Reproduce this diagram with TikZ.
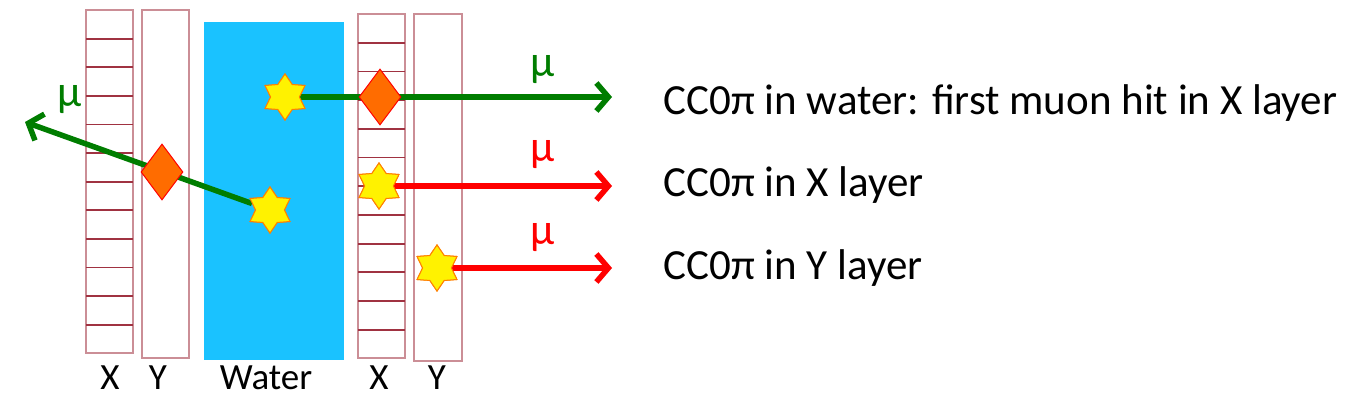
\documentclass[tikz,border=0pt]{standalone}
\usepackage{fontspec}
\setmainfont{Carlito}
\usetikzlibrary{shapes.geometric,arrows.meta}

\definecolor{stripe}{RGB}{160,50,65}
\definecolor{waterblue}{RGB}{26,194,255}
\definecolor{muongreen}{RGB}{0,125,0}

\tikzset{
	layer/.style={draw=stripe!55, line width=1.3pt},
	vertex/.style={star, star points=6, star point ratio=1.6, minimum size=46pt, inner sep=0pt, fill=yellow, draw=orange, line width=1pt},
	hit/.style={diamond, minimum width=42pt, minimum height=56pt, inner sep=0pt, fill=orange!85!red, draw=red, line width=1pt},
	track/.style={line width=5.5pt, -{Straight Barb[length=12pt,width=28pt]}},
	lbl/.style={font=\fontsize{37}{37}\selectfont},
	mu/.style={font=\fontsize{44}{44}\selectfont},
	caption/.style={font=\fontsize{43}{43}\selectfont, anchor=west},
}

\begin{document}
\begin{tikzpicture}[x=1pt,y=-1pt]
	\useasboundingbox (0,0) rectangle (1357,405);
	% layers
	\draw[layer] (86,10) rectangle (133,353);
	\foreach \i in {1,...,11} \draw[stripe, line width=1.8pt] (86,10+\i*28.6) -- (133,10+\i*28.6);
	\draw[layer] (142,10) rectangle (189,358);
	\fill[waterblue] (204,22) rectangle (344,360);
	\draw[layer] (358,14) rectangle (405,358);
	\foreach \i in {1,...,11} \draw[stripe, line width=1.8pt] (358,14+\i*28.7) -- (405,14+\i*28.7);
	\draw[layer] (414,14) rectangle (462,361);
	% labels under layers
	\node[lbl] (lx) at (110,378) {X};
	\node[lbl] (ly) at (158,378) {Y};
	\node[lbl] (lw) at (266,378) {Water};
	\node[lbl] (rx) at (379,378) {X};
	\node[lbl] (ry) at (437,378) {Y};
	% vertices and hits
	\coordinate (endA) at (25,122);
	\coordinate (endB) at (612,97);
	\coordinate (endC) at (612,186);
	\coordinate (endD) at (612,268);
	\node[vertex] (vA) at (270,210) {};
	\node[vertex] (vB) at (285,97) {};
	\node[vertex] (vC) at (379,186) {};
	\node[vertex] (vD) at (437,268) {};
	\draw[track, muongreen] (vA) -- (endA);
	\draw[track, muongreen] (vB) -- (endB);
	\draw[track, red] (vC) -- (endC);
	\draw[track, red] (vD) -- (endD);
	\node[hit] (hA) at (162,172) {};
	\node[hit] (hB) at (380,97) {};
	\node[vertex] at (vA) {};
	\node[vertex] at (vB) {};
	\node[vertex] at (vC) {};
	\node[vertex] at (vD) {};
	% muon labels
	\node[mu, muongreen] (mA) at (70,100) {μ};
	\node[mu, muongreen] (mB) at (543,70) {μ};
	\node[mu, red] (mC) at (543,155) {μ};
	\node[mu, red] (mD) at (543,238) {μ};
	% captions
	\node[caption] (cB) at (660,103) {CC0π in water: first muon hit in X layer};
	\node[caption] (cC) at (660,185) {CC0π in X layer};
	\node[caption] (cD) at (660,268) {CC0π in Y layer};
\end{tikzpicture}
\end{document}
